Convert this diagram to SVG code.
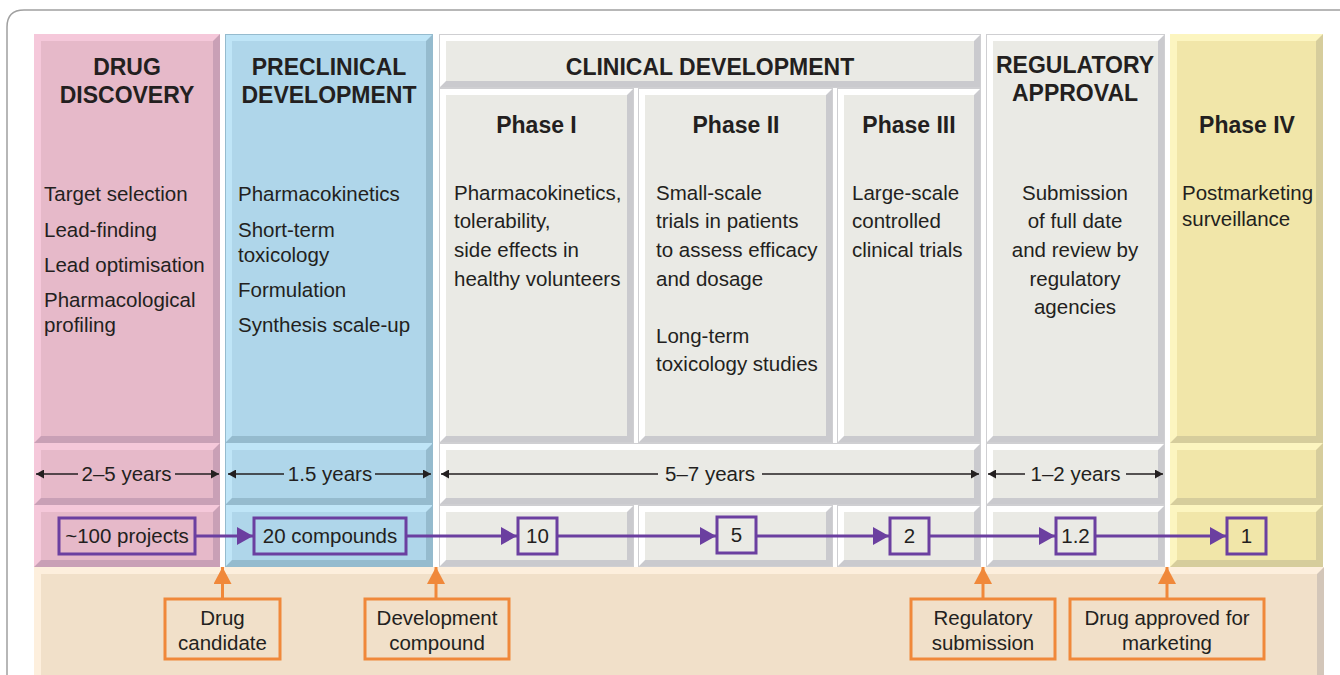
<svg xmlns="http://www.w3.org/2000/svg" width="1340" height="675" viewBox="0 0 1340 675">
<style>
text{font-family:"Liberation Sans",Arial,sans-serif;fill:#231F20}
.h{font-size:23px;font-weight:bold;text-anchor:middle}
.b{font-size:20.5px}
.c{font-size:20.5px;text-anchor:middle}
.pk .d{fill:#C9A0B6}.pk .l{fill:#F5C8DA}.pk .f{fill:#E6B9C9}
.bl .d{fill:#95BBCE}.bl .l{fill:#BFE5F7}.bl .f{fill:#AFD6EA}
.gy .d{fill:#CACACE}.gy .l{fill:#FFFFFF}.gy .f{fill:#EAEAE5}
.yl .d{fill:#D6CD9C}.yl .l{fill:#FCF5C0}.yl .f{fill:#F1E6A9}
.bg .d{fill:#D3C6B9}.bg .l{fill:#FDEFDD}.bg .f{fill:#F1E0C9}
.o{fill:none;stroke-width:1}
.pk .o{stroke:#C9A0B6}.bl .o{stroke:#95BBCE}.gy .o{stroke:#CFCFD2}.yl .o{stroke:#D6CD9C}.bg .o{stroke:#D3C6B9}
.pb{fill:none;stroke:#6B3FA0;stroke-width:3}
.ob{fill:#F1E0C9;stroke:#F0883A;stroke-width:3}
.pa{stroke:#6B3FA0;stroke-width:3;fill:none}
.ka{stroke:#231F20;stroke-width:1.5;fill:none}
.oa{stroke:#F0883A;stroke-width:3;fill:none}
</style>
<defs>
<marker id="mp" markerUnits="userSpaceOnUse" markerWidth="16" markerHeight="18" refX="16" refY="9" orient="auto"><path d="M0,0 L16,9 L0,18 z" fill="#6B3FA0"/></marker>
<marker id="mk" markerUnits="userSpaceOnUse" markerWidth="8" markerHeight="9" refX="8" refY="4.5" orient="auto"><path d="M0,0 L8,4.5 L0,9 z" fill="#231F20"/></marker>
<marker id="mo" markerUnits="userSpaceOnUse" markerWidth="18" markerHeight="18" refX="17" refY="9" orient="auto"><path d="M0,0 L17,9 L0,18 z" fill="#F0883A"/></marker>
</defs>
<rect width="1340" height="675" fill="#FFFFFF"/>
<path d="M7,675 V27 Q7,10 24,10 H1340" fill="none" stroke="#A0A0A0" stroke-width="1.5"/>

<!-- bottom band -->
<g id="band" class="bg">
<rect class="d" x="34" y="567" width="1290" height="120"/>
<polygon class="l" points="34,567 1324,567 1317,574 41,574 41,680 34,687"/>
<rect class="f" x="41" y="574" width="1276" height="106"/>
</g>

<!-- Drug discovery column -->
<g id="drug-discovery" class="pk">
<rect class="d" x="34" y="34" width="186" height="409"/>
<polygon class="l" points="34,34 220,34 213,41 41,41 41,436 34,443"/>
<rect class="f" x="41" y="41" width="172" height="395"/>
<rect class="d" x="34" y="443" width="186" height="62"/>
<polygon class="l" points="34,443 220,443 213,450 41,450 41,498 34,505"/>
<rect class="f" x="41" y="450" width="172" height="48"/>
<rect class="d" x="34" y="505" width="186" height="62"/>
<polygon class="l" points="34,505 220,505 213,512 41,512 41,560 34,567"/>
<rect class="f" x="41" y="512" width="172" height="48"/>
<text class="h" x="127" y="75">DRUG</text>
<text class="h" x="127" y="103">DISCOVERY</text>
<text class="b" x="44" y="201">Target selection</text>
<text class="b" x="44" y="237">Lead-finding</text>
<text class="b" x="44" y="272">Lead optimisation</text>
<text class="b" x="44" y="307">Pharmacological</text>
<text class="b" x="44" y="332">profiling</text>
</g>

<!-- Preclinical column -->
<g id="preclinical" class="bl">
<rect class="d" x="225" y="34" width="208" height="409"/>
<polygon class="l" points="225,34 433,34 426,41 232,41 232,436 225,443"/>
<rect class="f" x="232" y="41" width="194" height="395"/>
<rect class="d" x="225" y="443" width="208" height="62"/>
<polygon class="l" points="225,443 433,443 426,450 232,450 232,498 225,505"/>
<rect class="f" x="232" y="450" width="194" height="48"/>
<rect class="d" x="225" y="505" width="208" height="62"/>
<polygon class="l" points="225,505 433,505 426,512 232,512 232,560 225,567"/>
<rect class="f" x="232" y="512" width="194" height="48"/>
<rect class="o" x="225.5" y="34.5" width="207" height="532"/>
<text class="h" x="329" y="75">PRECLINICAL</text>
<text class="h" x="329" y="103">DEVELOPMENT</text>
<text class="b" x="238" y="201">Pharmacokinetics</text>
<text class="b" x="238" y="237">Short-term</text>
<text class="b" x="238" y="262">toxicology</text>
<text class="b" x="238" y="297">Formulation</text>
<text class="b" x="238" y="332">Synthesis scale-up</text>
</g>

<!-- Clinical development -->
<g id="clinical" class="gy">
<rect class="d" x="439" y="34" width="542" height="54"/>
<polygon class="l" points="439,34 981,34 974,41 446,41 446,81 439,88"/>
<rect class="f" x="446" y="41" width="528" height="40"/>
<rect class="o" x="439.5" y="34.5" width="541" height="53"/>
<text class="h" x="710" y="75">CLINICAL DEVELOPMENT</text>

<rect class="d" x="439" y="443" width="542" height="62"/>
<polygon class="l" points="439,443 981,443 974,450 446,450 446,498 439,505"/>
<rect class="f" x="446" y="450" width="528" height="48"/>
<rect class="o" x="439.5" y="443.5" width="541" height="61"/>
</g>

<g id="phase1" class="gy">
<rect class="d" x="439" y="88" width="195" height="355"/>
<polygon class="l" points="439,88 634,88 627,95 446,95 446,436 439,443"/>
<rect class="f" x="446" y="95" width="181" height="341"/>
<rect class="o" x="439.5" y="88.5" width="194" height="354"/>
<rect class="d" x="439" y="505" width="195" height="62"/>
<polygon class="l" points="439,505 634,505 627,512 446,512 446,560 439,567"/>
<rect class="f" x="446" y="512" width="181" height="48"/>
<rect class="o" x="439.5" y="505.5" width="194" height="61"/>
<text class="h" x="536.5" y="133">Phase I</text>
<text class="b" x="454" y="200">Pharmacokinetics,</text>
<text class="b" x="454" y="228">tolerability,</text>
<text class="b" x="454" y="257">side effects in</text>
<text class="b" x="454" y="286">healthy volunteers</text>
</g>

<g id="phase2" class="gy">
<rect class="d" x="638" y="88" width="195" height="355"/>
<polygon class="l" points="638,88 833,88 826,95 645,95 645,436 638,443"/>
<rect class="f" x="645" y="95" width="181" height="341"/>
<rect class="o" x="638.5" y="88.5" width="194" height="354"/>
<rect class="d" x="638" y="505" width="195" height="62"/>
<polygon class="l" points="638,505 833,505 826,512 645,512 645,560 638,567"/>
<rect class="f" x="645" y="512" width="181" height="48"/>
<rect class="o" x="638.5" y="505.5" width="194" height="61"/>
<text class="h" x="736" y="133">Phase II</text>
<text class="b" x="656" y="200">Small-scale</text>
<text class="b" x="656" y="228">trials in patients</text>
<text class="b" x="656" y="257">to assess efficacy</text>
<text class="b" x="656" y="286">and dosage</text>
<text class="b" x="656" y="343">Long-term</text>
<text class="b" x="656" y="371">toxicology studies</text>
</g>

<g id="phase3" class="gy">
<rect class="d" x="837" y="88" width="144" height="355"/>
<polygon class="l" points="837,88 981,88 974,95 844,95 844,436 837,443"/>
<rect class="f" x="844" y="95" width="130" height="341"/>
<rect class="o" x="837.5" y="88.5" width="143" height="354"/>
<rect class="d" x="837" y="505" width="144" height="62"/>
<polygon class="l" points="837,505 981,505 974,512 844,512 844,560 837,567"/>
<rect class="f" x="844" y="512" width="130" height="48"/>
<rect class="o" x="837.5" y="505.5" width="143" height="61"/>
<text class="h" x="909" y="133">Phase III</text>
<text class="b" x="852" y="200">Large-scale</text>
<text class="b" x="852" y="228">controlled</text>
<text class="b" x="852" y="257">clinical trials</text>
</g>

<g id="regulatory" class="gy">
<rect class="d" x="986" y="34" width="179" height="409"/>
<polygon class="l" points="986,34 1165,34 1158,41 993,41 993,436 986,443"/>
<rect class="f" x="993" y="41" width="165" height="395"/>
<rect class="o" x="986.5" y="34.5" width="178" height="408"/>
<rect class="d" x="986" y="443" width="179" height="62"/>
<polygon class="l" points="986,443 1165,443 1158,450 993,450 993,498 986,505"/>
<rect class="f" x="993" y="450" width="165" height="48"/>
<rect class="o" x="986.5" y="443.5" width="178" height="61"/>
<rect class="d" x="986" y="505" width="179" height="62"/>
<polygon class="l" points="986,505 1165,505 1158,512 993,512 993,560 986,567"/>
<rect class="f" x="993" y="512" width="165" height="48"/>
<rect class="o" x="986.5" y="505.5" width="178" height="61"/>
<text class="h" x="1075" y="73">REGULATORY</text>
<text class="h" x="1075" y="101">APPROVAL</text>
<text class="c" x="1075" y="200">Submission</text>
<text class="c" x="1075" y="228">of full date</text>
<text class="c" x="1075" y="257">and review by</text>
<text class="c" x="1075" y="286">regulatory</text>
<text class="c" x="1075" y="314">agencies</text>
</g>

<g id="phase4" class="yl">
<rect class="d" x="1170" y="34" width="153" height="409"/>
<polygon class="l" points="1170,34 1323,34 1316,41 1177,41 1177,436 1170,443"/>
<rect class="f" x="1177" y="41" width="139" height="395"/>
<rect class="d" x="1170" y="443" width="153" height="62"/>
<polygon class="l" points="1170,443 1323,443 1316,450 1177,450 1177,498 1170,505"/>
<rect class="f" x="1177" y="450" width="139" height="48"/>
<rect class="d" x="1170" y="505" width="153" height="62"/>
<polygon class="l" points="1170,505 1323,505 1316,512 1177,512 1177,560 1170,567"/>
<rect class="f" x="1177" y="512" width="139" height="48"/>
<text class="h" x="1247" y="133">Phase IV</text>
<text class="b" x="1182" y="200">Postmarketing</text>
<text class="b" x="1182" y="226">surveillance</text>
</g>

<!-- durations -->
<g id="durations">
<text class="c" x="126.5" y="481">2–5 years</text>
<text class="c" x="330" y="481">1.5 years</text>
<text class="c" x="710" y="481">5–7 years</text>
<text class="c" x="1075.5" y="481">1–2 years</text>
</g>

<!-- count nodes -->
<g id="n100"><rect class="pb" x="59" y="518" width="136" height="36"/><text class="c" x="127" y="543">~100 projects</text></g>
<g id="n20"><rect class="pb" x="254" y="518" width="152" height="36"/><text class="c" x="330" y="543">20 compounds</text></g>
<g id="n10"><rect class="pb" x="518" y="518" width="39" height="36"/><text class="c" x="537.5" y="543">10</text></g>
<g id="n5"><rect class="pb" x="717" y="517" width="39" height="36"/><text class="c" x="736.5" y="542">5</text></g>
<g id="n2"><rect class="pb" x="890" y="518" width="39" height="36"/><text class="c" x="909.5" y="543">2</text></g>
<g id="n12"><rect class="pb" x="1056" y="518" width="39" height="36"/><text class="c" x="1075.5" y="543">1.2</text></g>
<g id="n1"><rect class="pb" x="1227" y="518" width="39" height="36"/><text class="c" x="1246.5" y="543">1</text></g>

<!-- callouts -->
<g id="c-candidate"><rect class="ob" x="165" y="599" width="115" height="60"/><text class="c" x="222.5" y="625">Drug</text><text class="c" x="222.5" y="650">candidate</text></g>
<g id="c-devcomp"><rect class="ob" x="365" y="599" width="144" height="60"/><text class="c" x="437" y="625">Development</text><text class="c" x="437" y="650">compound</text></g>
<g id="c-regsub"><rect class="ob" x="911" y="599" width="144" height="60"/><text class="c" x="983" y="625">Regulatory</text><text class="c" x="983" y="650">submission</text></g>
<g id="c-approved"><rect class="ob" x="1070" y="599" width="194" height="60"/><text class="c" x="1167" y="625">Drug approved for</text><text class="c" x="1167" y="650">marketing</text></g>

<!-- connectors -->
<g id="connectors">
<line class="ka" x1="78" y1="474" x2="36" y2="474" marker-end="url(#mk)"/>
<line class="ka" x1="175" y1="474" x2="219" y2="474" marker-end="url(#mk)"/>
<line class="ka" x1="284" y1="474" x2="228" y2="474" marker-end="url(#mk)"/>
<line class="ka" x1="375" y1="474" x2="431" y2="474" marker-end="url(#mk)"/>
<line class="ka" x1="658" y1="474" x2="441" y2="474" marker-end="url(#mk)"/>
<line class="ka" x1="762" y1="474" x2="979" y2="474" marker-end="url(#mk)"/>
<line class="ka" x1="1025" y1="474" x2="988" y2="474" marker-end="url(#mk)"/>
<line class="ka" x1="1126" y1="474" x2="1163" y2="474" marker-end="url(#mk)"/>

<line class="pa" x1="195" y1="536" x2="253" y2="536" marker-end="url(#mp)"/>
<line class="pa" x1="406" y1="536" x2="517" y2="536" marker-end="url(#mp)"/>
<line class="pa" x1="557" y1="536" x2="716" y2="536" marker-end="url(#mp)"/>
<line class="pa" x1="756" y1="536" x2="889" y2="536" marker-end="url(#mp)"/>
<line class="pa" x1="929" y1="536" x2="1055" y2="536" marker-end="url(#mp)"/>
<line class="pa" x1="1095" y1="536" x2="1226" y2="536" marker-end="url(#mp)"/>

<line class="oa" x1="222.5" y1="598" x2="222.5" y2="567" marker-end="url(#mo)"/>
<line class="oa" x1="436" y1="598" x2="436" y2="567" marker-end="url(#mo)"/>
<line class="oa" x1="983" y1="598" x2="983" y2="567" marker-end="url(#mo)"/>
<line class="oa" x1="1167" y1="598" x2="1167" y2="567" marker-end="url(#mo)"/>
</g>
</svg>
